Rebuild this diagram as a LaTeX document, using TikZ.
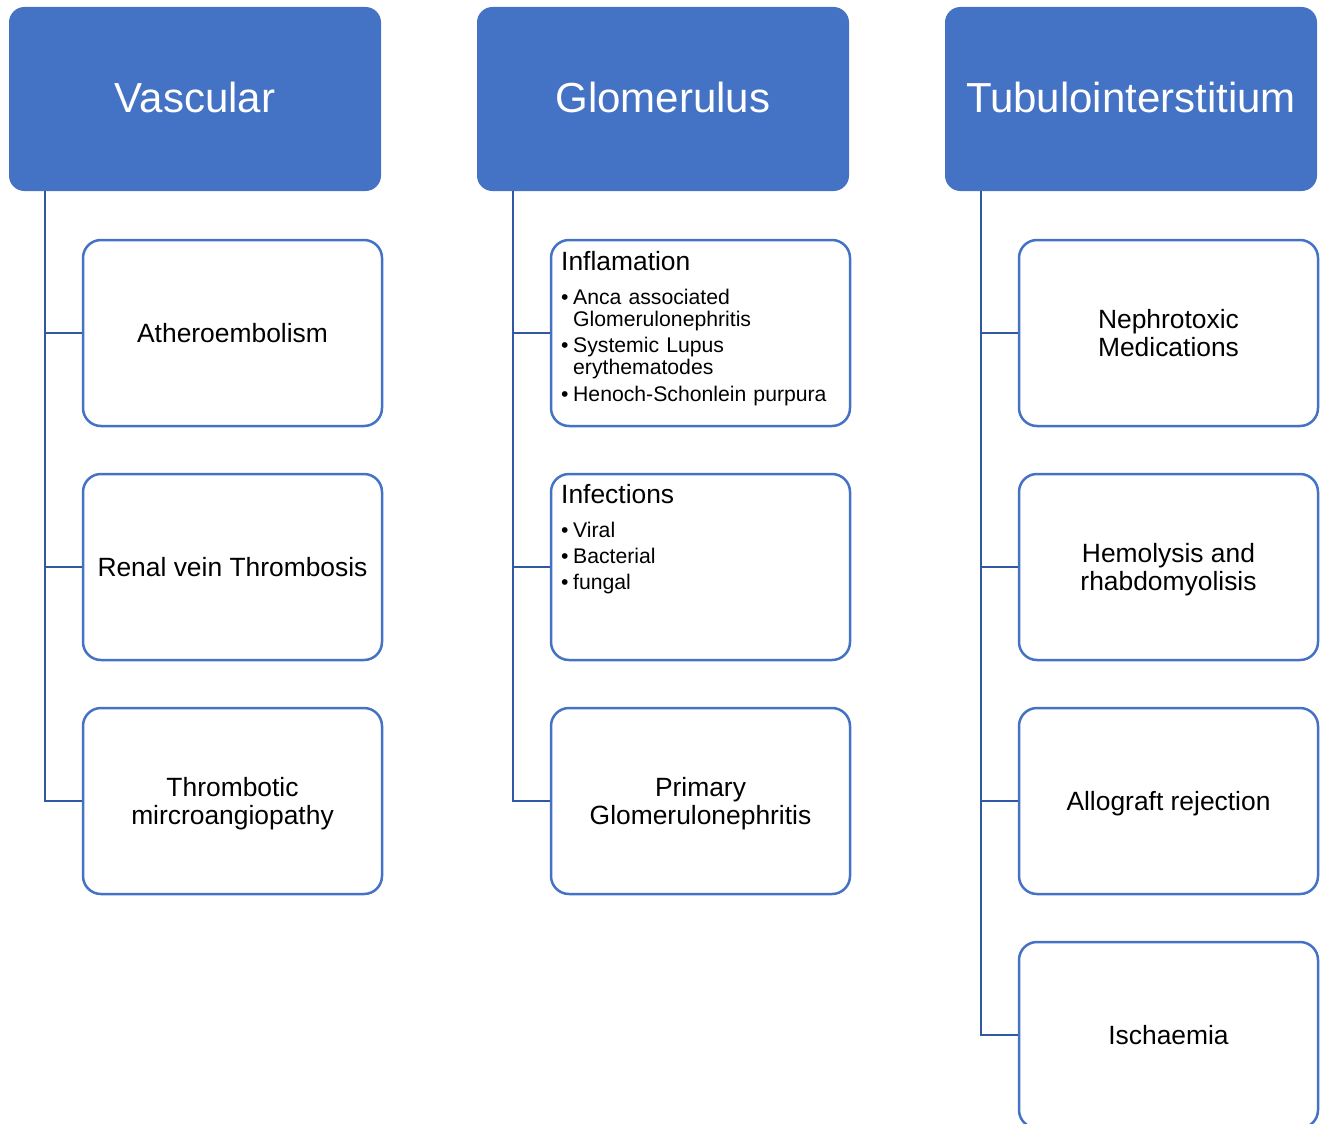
\documentclass[tikz,border=0pt]{standalone}
\usepackage{fontspec}
\setmainfont{Liberation Sans}
\definecolor{hdrblue}{HTML}{4472C4}
\definecolor{linkblue}{HTML}{3158A3}
% one bulleted entry, wrapped lines aligned under the first word
\newcommand{\itm}[1]{\par\noindent\makebox[12pt][l]{•}\parbox[t]{270pt}{#1}}
\begin{document}
\begin{tikzpicture}[x=1pt,y=-1pt,
  header/.style={rounded corners=15pt, fill=hdrblue, draw=hdrblue, line width=1pt,
    minimum width=371pt, minimum height=183pt, text=white, inner sep=0pt,
    text height=30pt, text depth=4pt,
    font=\fontsize{42}{46}\selectfont},
  child/.style={rounded corners=18pt, draw=hdrblue, line width=2.5pt, fill=white,
    minimum width=299pt, minimum height=186pt, align=center, inner sep=0pt,
    text depth=0pt, font=\fontsize{26.4}{28}\selectfont},
  listtext/.style={anchor=north west, inner sep=0pt, text width=285pt, align=left,
    font=\fontsize{21.2}{22}\selectfont},
  conn/.style={draw=linkblue, line width=2.8pt}]
\useasboundingbox (0,0) rectangle (1325,1124);
\clip (0,0) rectangle (1325,1124);

% column headers
\node[header] (H1) at (195,99) {Vascular};
\node[header] (H2) at (663,99) {Glomerulus};
\node[header] (H3) at (1131,99) {Tubulointerstitium};

% trunk start points
\coordinate (t1) at ([xshift=36pt]H1.south west);
\coordinate (t2) at ([xshift=36pt]H2.south west);
\coordinate (t3) at ([xshift=36pt]H3.south west);

% vascular causes
\node[child] (V1) at (232.5,333) {Atheroembolism};
\node[child] (V2) at (232.5,567) {Renal vein Thrombosis};
\node[child] (V3) at (232.5,801) {Thrombotic\\mircroangiopathy};

% glomerular causes
\node[child] (G1) at (700.5,333) {};
\node[child] (G2) at (700.5,567) {};
\node[child] (G3) at (700.5,801) {Primary\\Glomerulonephritis};
\node[listtext] (G1t) at (561,251) {{\fontsize{26.4}{30}\selectfont Inflamation}\par\vspace{12pt}
  \itm{Anca associated\\Glomerulonephritis}\par\vspace{5.5pt}
  \itm{Systemic Lupus\\erythematodes}\par\vspace{6pt}
  \itm{Henoch-Schonlein purpura}};
\node[listtext] (G2t) at (561,484) {{\fontsize{26.4}{30}\selectfont Infections}\par\vspace{12pt}
  \itm{Viral}\par\vspace{4pt}
  \itm{Bacterial}\par\vspace{4pt}
  \itm{fungal}};

% tubulointerstitial causes
\node[child] (T1) at (1168.5,333) {Nephrotoxic\\Medications};
\node[child] (T2) at (1168.5,567) {Hemolysis and\\rhabdomyolisis};
\node[child] (T3) at (1168.5,801) {Allograft rejection};
\node[child] (T4) at (1168.5,1035) {Ischaemia};

% connectors
\draw[conn] (t1) |- (V3.west);
\draw[conn] (V1.west) -- (V1.west -| t1);
\draw[conn] (V2.west) -- (V2.west -| t1);
\draw[conn] (t2) |- (G3.west);
\draw[conn] (G1.west) -- (G1.west -| t2);
\draw[conn] (G2.west) -- (G2.west -| t2);
\draw[conn] (t3) |- (T4.west);
\draw[conn] (T1.west) -- (T1.west -| t3);
\draw[conn] (T2.west) -- (T2.west -| t3);
\draw[conn] (T3.west) -- (T3.west -| t3);
\end{tikzpicture}
\end{document}
